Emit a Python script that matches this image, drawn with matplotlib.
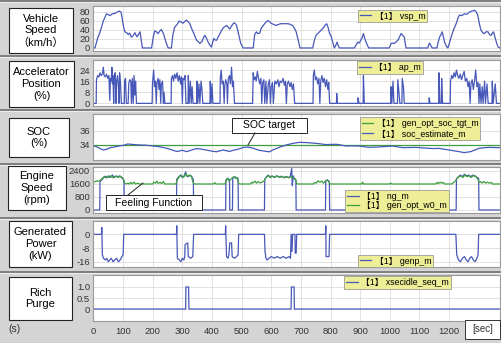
import matplotlib.pyplot as plt
from matplotlib.patches import Rectangle
from matplotlib.lines import Line2D

plt.rcParams['font.family'] = ['Liberation Sans', 'Noto Sans CJK JP', 'DejaVu Sans']

W, H = 502, 343
BLUE = '#4858b8'
GREEN = '#3f9f3f'
XMAX = 1372

# ---- data (time in s) ----
vsp_t = [0, 5, 14, 22, 33, 44, 50, 56, 64, 73, 80, 87, 93, 97, 102, 106, 112, 117, 122, 128, 134, 140, 144, 147,
         152, 157, 161, 165, 196, 202, 207, 212, 218, 224, 229, 233, 237, 244, 252, 263, 268, 274, 282, 289, 295,
         302, 308, 314, 320, 325, 332, 340, 348, 354, 359, 366, 372, 376, 381, 387, 393, 398, 402, 406, 410, 415,
         424, 432, 440, 449, 455, 460, 467, 474, 479, 483, 490, 497, 505, 539, 544, 550, 555, 561, 566, 573, 580,
         588, 595, 599, 606, 616, 623, 633, 645, 655, 662, 672, 678, 684, 690, 697, 740, 745, 751, 757, 763, 768,
         775, 781, 787, 792, 797, 801, 807, 813, 817, 822, 826, 830, 880, 886, 892, 897, 902, 906, 911, 916, 920,
         925, 929, 998, 1003, 1007, 1014, 1021, 1028, 1034, 1038, 1044, 1049, 1052, 1055, 1128, 1131, 1134, 1138,
         1143, 1159, 1163, 1168, 1173, 1177, 1181, 1185, 1190, 1196, 1200, 1207, 1215, 1224, 1230, 1235, 1243,
         1252, 1260, 1269, 1278, 1286, 1292, 1297, 1303, 1308, 1314, 1319, 1325, 1331, 1337, 1342, 1346, 1350,
         1356, 1361, 1366, 1372]
vsp_v = [0, 0, 22, 35, 60, 76, 74, 72, 76, 77, 80, 82, 80, 64, 45, 36, 34, 30, 33, 24, 28, 34, 28, 25,
         30, 36, 18, 0, 0, 26, 38, 36, 32, 38, 41, 36, 30, 14, 0, 0, 30, 46, 52, 60, 58,
         55, 59, 62, 58, 54, 42, 30, 17, 14, 10, 14, 24, 28, 22, 13, 6, 2, 12, 21, 18, 17,
         28, 39, 46, 50, 46, 42, 50, 56, 54, 50, 30, 10, 0, 0, 30, 36, 32, 33, 44, 50, 56,
         61, 58, 55, 53, 50, 52, 54, 54, 54, 53, 50, 44, 36, 20, 0, 0, 16, 28, 32, 36, 39,
         44, 50, 54, 45, 32, 28, 14, 0, 5, 13, 5, 0, 0, 6, 13, 11, 17, 22, 32, 20, 13,
         5, 0, 0, 8, 11, 10, 13, 18, 26, 32, 28, 24, 10, 0, 0, 6, 11, 6,
         0, 0, 12, 24, 30, 36, 24, 13, 5, 0, 8, 24, 40, 54, 66, 73, 72,
         76, 75, 80, 82, 84, 80, 73, 52, 39, 34, 32, 36, 36, 30, 28, 33, 36,
         22, 10, 2, 0]

ap_t = [0, 9, 10, 14, 18, 22, 26, 30, 33, 36, 40, 44, 48, 52, 55, 57, 60, 62, 64, 66, 68, 70, 73, 76, 78, 81,
        84, 86, 88, 91, 94, 104, 105, 108, 111, 117, 119, 122, 126, 128, 131, 134, 137, 140, 142, 145, 198, 199,
        203, 206, 209, 212, 214, 218, 221, 224, 227, 229, 233, 236, 238, 241, 262, 263, 267, 270, 274, 278, 282,
        286, 290, 294, 297, 300, 302, 306, 309, 312, 319, 320, 323, 327, 330, 333, 336, 348, 349, 352, 356, 359,
        363, 366, 369, 393, 394, 397, 400, 403, 427, 428, 431, 434, 438, 441, 443, 446, 450, 452, 455, 459, 462,
        466, 469, 472, 476, 537, 539, 542, 546, 549, 553, 557, 561, 565, 568, 571, 575, 578, 582, 585, 590, 594,
        597, 600, 604, 607, 612, 617, 622, 626, 630, 635, 640, 644, 648, 651, 654, 658, 663, 667, 671, 675, 679,
        741, 742, 745, 749, 753, 757, 761, 764, 767, 771, 775, 779, 783, 787, 791, 794, 797, 820, 821, 823, 892,
        893, 896, 910, 911, 914, 1003, 1004, 1007, 1011, 1014, 1026, 1027, 1031, 1034, 1041, 1042, 1046, 1049,
        1132, 1133, 1136, 1165, 1166, 1169, 1174, 1175, 1178, 1204, 1205, 1209, 1213, 1217, 1221, 1225, 1229,
        1233, 1238, 1242, 1246, 1251, 1255, 1260, 1264, 1268, 1271, 1274, 1278, 1282, 1286, 1290, 1294, 1298,
        1301, 1304, 1308, 1312, 1315, 1320, 1323, 1328, 1332, 1345, 1346, 1349, 1356, 1360, 1372]
ap_v = [0, 0, 17, 20, 19, 22, 20, 21, 26, 20, 19, 21, 18, 20, 2, 18, 16, 26, 14, 20, 0, 18, 22, 0, 16, 20,
        12, 0, 22, 15, 0, 0, 16, 18, 0, 0, 14, 17, 16, 0, 18, 0, 20, 6, 16, 0, 0, 14,
        24, 12, 16, 0, 15, 18, 10, 17, 0, 14, 16, 0, 8, 0, 0, 18, 20, 16, 21, 18, 22,
        16, 20, 14, 19, 0, 18, 17, 20, 0, 0, 20, 0, 16, 0, 12, 0, 0, 16, 0, 14, 0,
        16, 10, 0, 0, 16, 0, 14, 0, 0, 18, 24, 14, 16, 0, 12, 17, 14, 0, 18, 20, 14,
        26, 12, 16, 0, 0, 22, 17, 19, 16, 23, 18, 14, 18, 0, 15, 17, 0, 16, 0, 14, 17,
        0, 12, 15, 0, 16, 14, 17, 12, 16, 15, 18, 13, 16, 0, 14, 16, 12, 15, 10, 14, 0,
        0, 20, 24, 17, 19, 14, 18, 0, 16, 20, 15, 18, 12, 17, 10, 15, 0, 0, 7, 0, 0,
        4, 0, 0, 20, 0, 0, 12, 0, 16, 0, 0, 17, 8, 0, 0, 18, 12, 0,
        0, 4, 0, 0, 22, 0, 0, 18, 0, 0, 16, 20, 18, 22, 19, 24, 20,
        18, 21, 17, 20, 23, 16, 18, 12, 16, 0, 14, 17, 10, 16, 24, 12, 15,
        0, 14, 0, 12, 0, 16, 0, 14, 0, 0, 16, 0, 14, 0, 0]

soc_tgt_t = [0, XMAX]
soc_tgt_v = [34.0, 34.0]
soc_t = [0, 8, 15, 22, 28, 33, 38, 44, 52, 61, 70, 78, 90, 100, 106, 112, 117, 125, 140, 156, 175, 201, 225,
         246, 262, 280, 290, 297, 305, 314, 325, 335, 347, 360, 372, 381, 398, 415, 428, 437, 448, 460, 470, 482,
         495, 505, 515, 527, 538, 549, 560, 572, 583, 594, 603, 611, 620, 628, 640, 650, 662, 673, 684, 695, 710,
         723, 737, 751, 768, 785, 800, 819, 835, 852, 875, 897, 915, 931, 955, 976, 995, 1009, 1025, 1043, 1065,
         1088, 1110, 1133, 1150, 1167, 1185, 1200, 1215, 1234, 1251, 1262, 1273, 1287, 1301, 1318, 1335, 1352, 1372]
soc_v = [33.85, 33.8, 33.67, 33.5, 33.4, 33.3, 33.35, 33.4, 33.55, 33.67, 33.72, 33.78, 33.9, 33.95, 34.0, 34.1,
         34.14, 34.1, 34.05, 34.0, 33.98, 33.86, 33.75, 33.55, 33.35, 33.1, 33.15, 33.25, 33.2, 33.07, 33.2, 33.35,
         33.5, 33.45, 33.35, 33.3, 33.15, 33.05, 33.2, 33.3, 33.2, 33.1, 33.25, 33.35, 33.5, 33.65, 33.7, 33.67,
         33.55, 33.4, 33.25, 33.18, 33.1, 33.05, 33.25, 33.4, 33.55, 33.7, 33.85, 34.0, 34.12, 34.23, 34.3, 34.37,
         34.35, 34.33, 34.28, 34.23, 34.15, 34.05, 34.08, 34.1, 34.0, 33.86, 33.88, 33.86, 33.75, 33.67, 33.72,
         33.76, 33.82, 33.86, 33.75, 33.63, 33.65, 33.67, 33.6, 33.53, 33.5, 33.53, 33.4, 33.3, 33.2, 33.07, 32.93,
         33.0, 33.07, 33.3, 33.53, 33.62, 33.67, 33.65, 33.62]

ng_t = [0, 21, 22, 28, 34, 40, 46, 52, 58, 64, 70, 76, 82, 88, 94, 100, 103, 104, 280, 281, 288, 294, 300, 306,
        311, 314, 320, 326, 332, 337, 338, 446, 447, 453, 459, 460, 469, 470, 477, 483, 488, 489, 577, 578, 584,
        590, 596, 602, 610, 618, 626, 634, 642, 650, 658, 664, 669, 671, 674, 679, 683, 684, 783, 784, 790, 796,
        797, 1224, 1225, 1232, 1238, 1245, 1252, 1259, 1266, 1273, 1280, 1288, 1295, 1300, 1301, 1372]
ng_v = [0, 0, 1750, 1850, 2000, 2080, 1980, 2100, 2000, 2150, 2000, 2080, 2020, 2100, 2000, 1900, 1800, 0, 0, 1900,
        2050, 2150, 2000, 2100, 2350, 2100, 2050, 2150, 2050, 1850, 0, 0, 1850, 1950, 1850, 0, 0, 1950, 2050, 1950,
        1900, 0, 0, 1900, 2050, 2150, 2000, 2100, 2000, 2100, 2020, 2080, 2000, 2060, 2000, 2050, 2550, 1500, 2100,
        1900, 1850, 0, 0, 1800, 1850, 1750, 0, 0, 1900, 2050, 2150, 2050, 2200, 2100, 2150, 2050, 2150, 2100,
        2000, 1950, 0, 0]

w0_t = [0, 6, 12, 18, 24, 30, 36, 42, 48, 54, 60, 66, 72, 78, 84, 90, 96, 101, 105, 110, 116, 120, 126, 130, 137,
        141, 150, 155, 200, 204, 209, 214, 218, 225, 230, 236, 240, 278, 284, 290, 296, 302, 308, 312, 317, 323,
        330, 336, 340, 405, 409, 413, 444, 448, 452, 457, 462, 468, 474, 480, 486, 490, 495, 530, 534, 538, 545,
        550, 556, 562, 570, 576, 580, 586, 592, 598, 604, 612, 620, 628, 636, 644, 652, 660, 668, 676, 682, 686,
        742, 747, 752, 758, 764, 770, 776, 782, 788, 794, 798, 905, 908, 911, 1000, 1003, 1006, 1155, 1160, 1164,
        1170, 1175, 1180, 1186, 1210, 1216, 1222, 1227, 1234, 1240, 1247, 1254, 1261, 1268, 1275, 1282, 1290,
        1296, 1301, 1306, 1312, 1318, 1324, 1330, 1336, 1342, 1348, 1372]
w0_v = [1720, 1750, 1800, 1760, 1850, 1950, 2050, 1980, 2080, 2000, 2120, 1980, 2050, 2100, 2000, 2080, 2020,
        1900, 1650, 1600, 1650, 1600, 1700, 1600, 1720, 1600, 1650, 1600, 1600, 1720, 1650, 1780, 1640, 1700,
        1620, 1760, 1600, 1600, 1900, 2050, 2150, 2000, 2100, 2250, 2050, 2150, 2080, 1700, 1600, 1600, 1680,
        1600, 1600, 1850, 1950, 1800, 1850, 1980, 2050, 1950, 2000, 1620, 1600, 1600, 1720, 1650, 1780, 1650,
        1750, 1660, 1720, 1800, 1950, 2050, 2120, 2000, 2080, 2020, 2100, 2000, 2060, 1980, 2050, 1980, 2050,
        1950, 1900, 1600, 1600, 1700, 1650, 1800, 1700, 1780, 1650, 1780, 1850, 1750, 1600, 1600, 1720, 1600,
        1600, 1660, 1600, 1600, 1700, 1620, 1720, 1640, 1700, 1600, 1600, 1700, 1800, 1950, 2050, 2100, 2000,
        2150, 2050, 2100, 2000, 2120, 2050, 1950, 1700, 1750, 1650, 1760, 1650, 1720, 1640, 1700, 1600, 1600]

genp_t = [0, 27, 28, 30, 34, 40, 45, 50, 55, 60, 66, 72, 78, 84, 90, 96, 100, 102, 280, 281, 283, 290, 295, 300,
          305, 308, 309, 318, 320, 328, 335, 338, 445, 446, 449, 454, 457, 460, 466, 468, 476, 483, 488, 490, 577,
          579, 582, 586, 592, 600, 610, 620, 630, 640, 650, 660, 665, 667, 670, 672, 680, 681, 684, 686, 783, 784,
          785, 795, 797, 1223, 1226, 1232, 1238, 1245, 1252, 1258, 1264, 1270, 1276, 1282, 1288, 1294, 1298, 1300,
          1372]
genp_v = [0, 0, 4, -12, -14, -15, -14, -16, -15, -14, -16, -15, -14, -16, -15, -13, -12, 0, 0, 5, -14, -15, -16,
          -14, -15, -13, -6, -5, -13, -14, -13, 0, 0, 5, -13, -14, -12, -5, -5, -13, -14, -13, -12, 0, 0,
          -10, -14, -15, -14, -13, -14, -13, -14, -13, -14, -13, -14, 0, -10, 0, 0, -11, -11, 0, 0, 5,
          -13, -13, 0, 0, -12, -15, -16, -14, -13, -15, -16, -14, -13, -15, -16, -14, -12, 0,
          0]

purge_t = [0, 311, 312, 321, 322, 667, 668, 677, 678, XMAX]
purge_v = [0, 0, 1, 1, 0, 0, 1, 1, 0, 0]

xticks = list(range(0, 1300, 100))

# panel pixel layout: (top, bottom, ylim, yticks, yticklabels, title, title box)
panels = [
    (6, 51, (-6.7, 93.3), [0, 20, 40, 60, 80], ['0', '20', '40', '60', '80'],
     'Vehicle\nSpeed\n（km/h）', (9, 8, 73, 53)),
    (60, 106, (-1.9, 31.2), [0, 8, 16, 24], ['0', '8', '16', '24'],
     'Accelerator\nPosition\n(%)', (9, 61, 74, 107)),
    (114, 160, (31.9, 38.34), [34, 36], ['34', '36'],
     'SOC\n(%)', (9, 118, 69, 157)),
    (167, 213, (-185, 2646), [0, 800, 1600, 2400], ['0', '800', '1600', '2400'],
     'Engine\nSpeed\n(rpm)', (8, 166, 66, 210)),
    (221, 267, (-19.1, 7.8), [-16, -8, 0], ['-16', '-8', '0'],
     'Generated\nPower\n(kW)', (9, 221, 72, 267)),
    (275, 321, (-0.545, 1.545), [0, 0.5, 1.0], ['0', '0.5', '1.0'],
     'Rich\nPurge', (9, 277, 72, 320)),
]

series = [
    [(vsp_t, vsp_v, BLUE, '【1】 vsp_m')],
    [(ap_t, ap_v, BLUE, '【1】 ap_m')],
    [(soc_tgt_t, soc_tgt_v, GREEN, '【1】 gen_opt_soc_tgt_m'), (soc_t, soc_v, BLUE, '【1】 soc_estimate_m')],
    [(ng_t, ng_v, BLUE, '【1】 ng_m'), (w0_t, w0_v, GREEN, '【1】 gen_opt_w0_m')],
    [(genp_t, genp_v, BLUE, '【1】 genp_m')],
    [(purge_t, purge_v, BLUE, '【1】 xsecidle_seq_m')],
]
legend_pos = [(392.5, 16), (390, 67.5), (420, 128.5), (397, 201), (395.5, 261), (397.5, 282.5)]


def fx(x):
    return x / W


def fy(y):
    return 1 - y / H


fig = plt.figure(figsize=(W / 100, H / 100), dpi=100, facecolor='#d4d4d4')

for i, (top, bot, ylim, yt, ytl, title, tb) in enumerate(panels):
    ax = fig.add_axes([fx(93.5), fy(bot), fx(500) - fx(93.5), (bot - top) / H])
    ax.set_facecolor('white')
    handles = []
    for t, v, c, lab in series[i]:
        ln, = ax.plot(t, v, color=c, lw=0.9, label=lab)
        handles.append(ln)
    ax.set_xlim(0, XMAX)
    ax.set_ylim(*ylim)
    ax.set_yticks(yt)
    ax.set_yticklabels(ytl)
    ax.set_xticks(xticks)
    ax.grid(True, color='#dddddd', lw=0.6)
    ax.set_axisbelow(True)
    ax.tick_params(axis='y', length=0, pad=2.5, labelsize=6.8, colors='#333333')
    ax.tick_params(axis='x', length=0, pad=4, labelsize=6.8, colors='#333333')
    if i < 5:
        ax.set_xticklabels([])
    for s in ax.spines.values():
        s.set_color('#9a9a9a')
        s.set_linewidth(0.8)

    leg = ax.legend(handles=handles, loc='center',
                    bbox_to_anchor=(fx(legend_pos[i][0]), fy(legend_pos[i][1])),
                    bbox_transform=fig.transFigure, fontsize=6.3, frameon=True,
                    fancybox=False, framealpha=1, facecolor='#eeee96', edgecolor='#9a9a9a',
                    borderpad=0.2, handlelength=1.3, handletextpad=0.4, labelspacing=0.1,
                    borderaxespad=0)
    leg.get_frame().set_linewidth(0.6)

    # left title box
    x0, y0, x1, y1 = tb
    fig.add_artist(Rectangle((fx(x0), fy(y1)), fx(x1) - fx(x0), (y1 - y0) / H,
                             transform=fig.transFigure, facecolor='white',
                             edgecolor='#222222', lw=0.8))
    fig.text(fx((x0 + x1) / 2), fy((y0 + y1) / 2), title, ha='center', va='center',
             fontsize=8, linespacing=1.2)

# panel separators
for y in [1, 55.5, 109.5, 164, 218, 271.5]:
    fig.add_artist(Line2D([0, 1], [fy(y), fy(y)], transform=fig.transFigure,
                          color='#707070', lw=1.2))
    fig.add_artist(Line2D([0, 1], [fy(y + 1.3), fy(y + 1.3)], transform=fig.transFigure,
                          color='#f2f2f2', lw=0.6))

# annotations
fig.add_artist(Line2D([fx(255), fx(248)], [fy(133), fy(145)], transform=fig.transFigure,
                      color='#222222', lw=0.7))
fig.add_artist(Rectangle((fx(232), fy(133)), fx(307) - fx(232), 15 / H,
                         transform=fig.transFigure, facecolor='white', edgecolor='#222222', lw=0.7))
fig.text(fx(269.5), fy(125.5), 'SOC target', ha='center', va='center', fontsize=7.5)

fig.add_artist(Line2D([fx(128), fx(143)], [fy(195), fy(183)], transform=fig.transFigure,
                      color='#222222', lw=0.7))
fig.add_artist(Rectangle((fx(106), fy(210)), fx(202) - fx(106), 15 / H,
                         transform=fig.transFigure, facecolor='white', edgecolor='#222222', lw=0.7))
fig.text(fx(154), fy(202.5), 'Feeling Function', ha='center', va='center', fontsize=7.5)

# bottom texts
fig.text(fx(15), fy(329), '(s)', ha='center', va='center', fontsize=7.5, color='#333333')
fig.add_artist(Rectangle((fx(465), fy(339)), fx(500) - fx(465), 19 / H,
                         transform=fig.transFigure, facecolor='white', edgecolor='#333333', lw=0.7))
fig.text(fx(482.5), fy(329.5), '[sec]', ha='center', va='center', fontsize=7, color='#333333')

fig.savefig('out.png', dpi=100, facecolor=fig.get_facecolor())
